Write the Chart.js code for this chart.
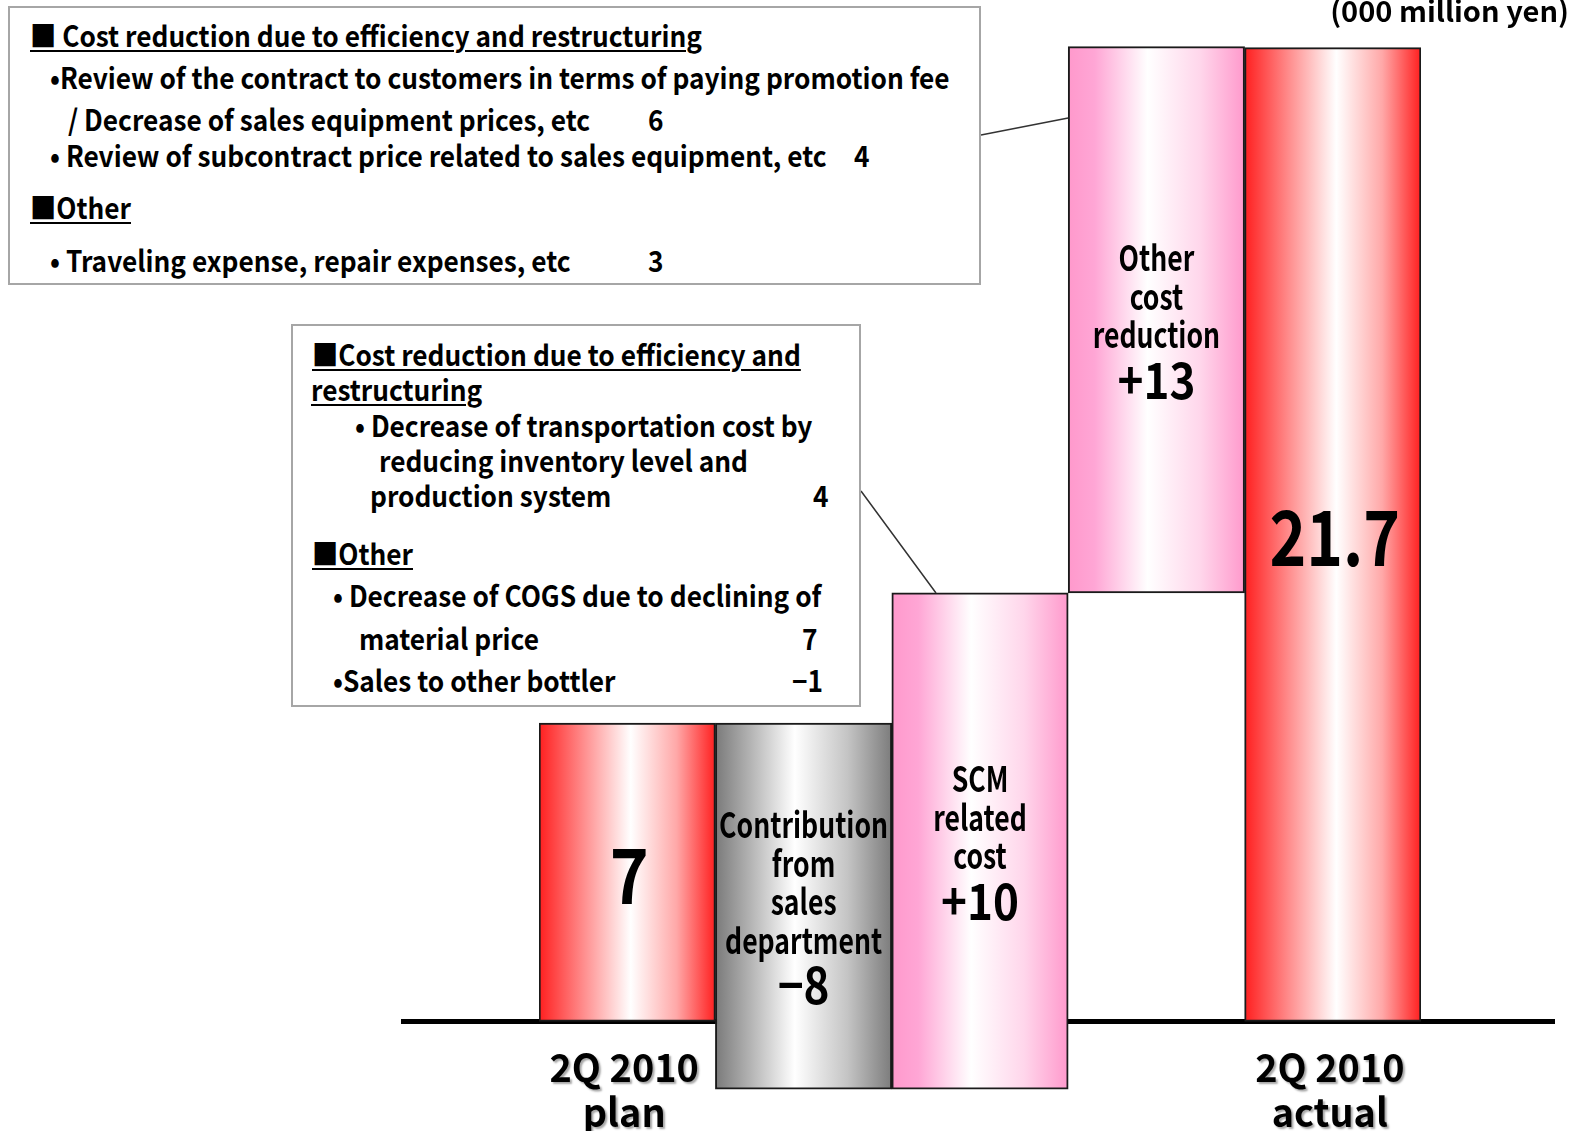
<!DOCTYPE html>
<html>
<head>
<meta charset="utf-8">
<script src="https://cdn.jsdelivr.net/npm/chart.js@4.4.1/dist/chart.umd.min.js"></script>
<style>
  html, body { margin: 0; padding: 0; background: #fff; overflow: hidden; }
  #wrap { position: relative; width: 1573px; height: 1131px; }
  #chart { position: absolute; left: 0; top: 0; }
  .box { position: absolute; border: 2px solid #a6a6a6; background: #fff; box-sizing: border-box; }
  .ln { position: absolute; white-space: pre; line-height: 1; font-family: "Noto Sans CJK JP", "Noto Sans", sans-serif;
        font-size: 29px; font-weight: bold; color: #000; transform-origin: 0 50%; transform: scaleX(0.905); }
  .u { text-decoration: underline; text-decoration-thickness: 2px; text-underline-offset: 3px; }
  #unit { position: absolute; right: 4px; top: -12px; font-family: "Noto Sans CJK JP", sans-serif; font-weight: bold;
          font-size: 29px; white-space: pre; transform-origin: 100% 50%; transform: scaleX(1.0); }
</style>
</head>
<body>
<div id="wrap">
  <canvas id="chart" width="1573" height="1131"></canvas>

  <div class="box" style="left:8px; top:6px; width:973px; height:279px;"></div>
  <div class="ln u" style="left:30px; top:20px;">■ Cost reduction due to efficiency and restructuring</div>
  <div class="ln" style="left:50px; top:62px;">•Review of the contract to customers in terms of paying promotion fee</div>
  <div class="ln" style="left:68px; top:104px;">/ Decrease of sales equipment prices, etc</div>
  <div class="ln" style="left:648px; top:104px;">6</div>
  <div class="ln" style="left:50px; top:140px;">• Review of subcontract price related to sales equipment, etc</div>
  <div class="ln" style="left:854px; top:140px;">4</div>
  <div class="ln u" style="left:30px; top:192px;">■Other</div>
  <div class="ln" style="left:50px; top:245px;">• Traveling expense, repair expenses, etc</div>
  <div class="ln" style="left:648px; top:245px;">3</div>

  <div class="box" style="left:291px; top:324px; width:570px; height:383px;"></div>
  <div class="ln u" style="left:312px; top:339px;">■Cost reduction due to efficiency and</div>
  <div class="ln u" style="left:311px; top:374px;">restructuring</div>
  <div class="ln" style="left:355px; top:410px;">• Decrease of transportation cost by</div>
  <div class="ln" style="left:379px; top:445px;">reducing inventory level and</div>
  <div class="ln" style="left:370px; top:480px;">production system</div>
  <div class="ln" style="left:813px; top:480px;">4</div>
  <div class="ln u" style="left:312px; top:538px;">■Other</div>
  <div class="ln" style="left:333px; top:580px;">• Decrease of COGS due to declining of</div>
  <div class="ln" style="left:359px; top:623px;">material price</div>
  <div class="ln" style="left:802px; top:623px;">7</div>
  <div class="ln" style="left:333px; top:665px;">•Sales to other bottler</div>
  <div class="ln" style="left:792px; top:665px;">−1</div>

  <div id="unit">(000 million yen)</div>
</div>

<script>
// categories of the waterfall
const categories = ['2Q 2010 plan', 'Contribution from sales department', 'SCM related cost', 'Other cost reduction', '2Q 2010 actual'];
// bar bottoms and tops (000 million yen)
const barLow = [0, -1.51, -1.51, 9.55, 0];
const barHigh = [6.65, 6.65, 9.55, 21.72, 21.7];
// what each bar is
const barKind = ['total', 'minus', 'plus', 'plus', 'total'];
// text written in the bars
const barNames = [[], ['Contribution', 'from', 'sales', 'department'], ['SCM', 'related', 'cost'], ['Other', 'cost', 'reduction'], []];
const barValues = ['7', '−8', '+10', '+13', '21.7'];
// labels under the baseline
const axisLabels = [['2Q 2010', 'plan'], [], [], [], ['2Q 2010', 'actual']];

const FONT = '"Noto Sans CJK JP", "Noto Sans", sans-serif';

const gradientStops = {
  total: [[0, '#ff1f1f'], [0.25, '#ff8c8c'], [0.52, '#ffffff'], [0.78, '#ffa8a8'], [1, '#ff1f1f']],
  minus: [[0, '#7a7a7a'], [0.2, '#b4b4b4'], [0.45, '#ffffff'], [0.75, '#c4c4c4'], [1, '#7c7c7c']],
  plus: [[0, '#ff99cc'], [0.15, '#ffa6d5'], [0.45, '#ffffff'], [0.75, '#ffd6eb'], [1, '#ff99cc']]
};

function barFill(context) {
  const chart = context.chart;
  if (!chart.chartArea) return '#ccc';
  const xs = chart.scales.x;
  const cx = xs.getPixelForValue(context.dataIndex);
  const half = xs.width / categories.length / 2;
  const g = chart.ctx.createLinearGradient(cx - half, 0, cx + half, 0);
  gradientStops[barKind[context.dataIndex]].forEach(s => g.addColorStop(s[0], s[1]));
  return g;
}

function squeezeText(ctx, text, x, y, font, sx) {
  ctx.save();
  ctx.font = font;
  ctx.translate(x, y);
  ctx.scale(sx, 1);
  ctx.textAlign = 'center';
  ctx.textBaseline = 'middle';
  ctx.fillText(text, 0, 0);
  ctx.restore();
}

// baseline under the bars
const baselinePlugin = {
  id: 'baseline',
  beforeDatasetsDraw(chart) {
    const ctx = chart.ctx;
    const y = chart.scales.y.getPixelForValue(0);
    ctx.save();
    ctx.strokeStyle = '#000';
    ctx.lineWidth = 5;
    ctx.beginPath();
    ctx.moveTo(401, y);
    ctx.lineTo(1555, y);
    ctx.stroke();
    ctx.restore();
  }
};

// texts in the bars, category labels and leader lines
const labelPlugin = {
  id: 'labels',
  afterDatasetsDraw(chart) {
    const ctx = chart.ctx;
    const meta = chart.getDatasetMeta(0);
    ctx.fillStyle = '#000';
    meta.data.forEach((bar, i) => {
      const top = Math.min(bar.y, bar.base);
      const bottom = Math.max(bar.y, bar.base);
      const mid = (top + bottom) / 2;
      const names = barNames[i];
      if (names.length === 0) {
        const sx = barValues[i].length > 2 ? 0.82 : 0.87;
        squeezeText(ctx, barValues[i], bar.x + 2, mid + 3, 'bold 76px ' + FONT, sx);
      } else {
        const gap = 38.5, vgap = 45;
        const span = (names.length - 1) * gap + vgap;
        let y = mid - span / 2 - 1;
        names.forEach(n => {
          squeezeText(ctx, n, bar.x, y, 'bold 35px ' + FONT, 0.76);
          y += gap;
        });
        squeezeText(ctx, barValues[i], bar.x, y - gap + vgap, 'bold 50px ' + FONT, 0.88);
      }
      const lab = axisLabels[i];
      if (lab.length) {
        const base = chart.scales.y.getPixelForValue(0);
        ctx.save();
        ctx.shadowColor = 'rgba(0,0,0,0.35)';
        ctx.shadowOffsetX = 2;
        ctx.shadowOffsetY = 2;
        ctx.shadowBlur = 2;
        squeezeText(ctx, lab[0], bar.x - 3, base + 46, 'bold 39px ' + FONT, 0.97);
        squeezeText(ctx, lab[1], bar.x - 3, base + 91, 'bold 39px ' + FONT, 0.97);
        ctx.restore();
      }
    });
    // leader lines from the notes to the bars
    ctx.save();
    ctx.strokeStyle = '#333';
    ctx.lineWidth = 1.5;
    ctx.beginPath();
    ctx.moveTo(981, 135);
    ctx.lineTo(meta.data[3].x - meta.data[3].width / 2, 118);
    ctx.moveTo(861, 491);
    ctx.lineTo(936, 593);
    ctx.stroke();
    ctx.restore();
  }
};

new Chart(document.getElementById('chart'), {
  type: 'bar',
  data: {
    labels: categories,
    datasets: [{
      data: categories.map((c, i) => [barLow[i], barHigh[i]]),
      backgroundColor: barFill,
      borderColor: '#1a1a1a',
      borderWidth: 2,
      borderSkipped: false,
      categoryPercentage: 1,
      barPercentage: 1
    }]
  },
  options: {
    responsive: false,
    animation: false,
    layout: { padding: { left: 539, right: 152, top: 0, bottom: 0 } },
    plugins: { legend: { display: false }, tooltip: { enabled: false } },
    scales: {
      x: { display: false },
      y: { display: false, min: -2.44, max: 22.76 }
    }
  },
  plugins: [baselinePlugin, labelPlugin]
});
</script>
</body>
</html>
